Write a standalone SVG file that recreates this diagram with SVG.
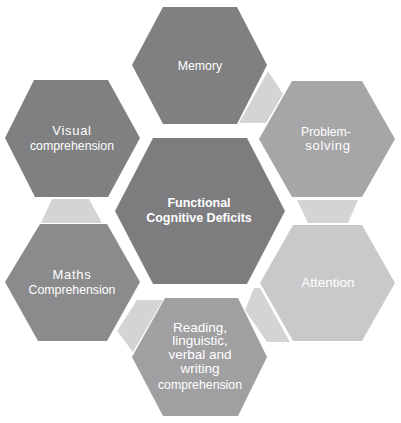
<svg xmlns="http://www.w3.org/2000/svg" width="401" height="423" viewBox="0 0 401 423">
<style>
text{font-family:"Liberation Sans",Arial,sans-serif;fill:#fff;text-anchor:middle;font-size:12.3px}
.b{font-weight:bold;font-size:12.5px}
.conn polygon{fill:#d4d4d6}
.sp{letter-spacing:0.7px;font-size:13px}
.r{font-size:13.5px}
</style>
<rect width="401" height="423" fill="#fff"/>
<g id="connectors" class="conn">
<polygon points="268,71 283,94 266,123 239,123"/>
<polygon points="297,200 358,200 348,223 308,223"/>
<polygon points="254,288 260,288 290,342 267,342 245,310"/>
<polygon points="137,300 163,300 133,352 117,331"/>
<polygon points="52,199 89,199 102,223 41,223"/>
</g>
<g id="memory">
<polygon points="132,65 163,7 237,7 267,65 237,124 163,124" fill="#808083"/>
<text x="200" y="70" font-size="13">Memory</text>
</g>
<g id="problem-solving">
<polygon points="259,139 292,81 362,81 395,139 362,197 292,197" fill="#a6a6a8"/>
<text x="326" y="136">Problem-</text>
<text x="328" y="150" class="sp">solving</text>
</g>
<g id="attention">
<polygon points="260,283 293,225 362,225 395,283 362,341 293,341" fill="#c9c9cb"/>
<text x="328" y="287" class="r">Attention</text>
</g>
<g id="reading">
<polygon points="132,357 165,298 238,298 267,357 238,416 163,416" fill="#a0a0a2"/>
<text x="200" y="332" class="r">Reading,</text>
<text x="200" y="345" class="r">linguistic,</text>
<text x="200" y="359" class="r">verbal and</text>
<text x="200" y="373" class="r">writing</text>
<text x="200" y="389">comprehension</text>
</g>
<g id="maths">
<polygon points="5,282 40,224 107,224 140,282 107,341 38,341" fill="#8b8b8d"/>
<text x="72" y="279" class="sp">Maths</text>
<text x="72" y="294">Comprehension</text>
</g>
<g id="visual">
<polygon points="5,138 34,80 108,80 140,138 108,197 35,197" fill="#808083"/>
<text x="72" y="135" class="sp">Visual</text>
<text x="72" y="150">comprehension</text>
</g>
<g id="center">
<polygon points="115,211 153,138 247,138 285,211 247,284 153,284" fill="#7d7d80"/>
<text x="199" y="207" class="b">Functional</text>
<text x="199" y="222" class="b">Cognitive Deficits</text>
</g>
</svg>
